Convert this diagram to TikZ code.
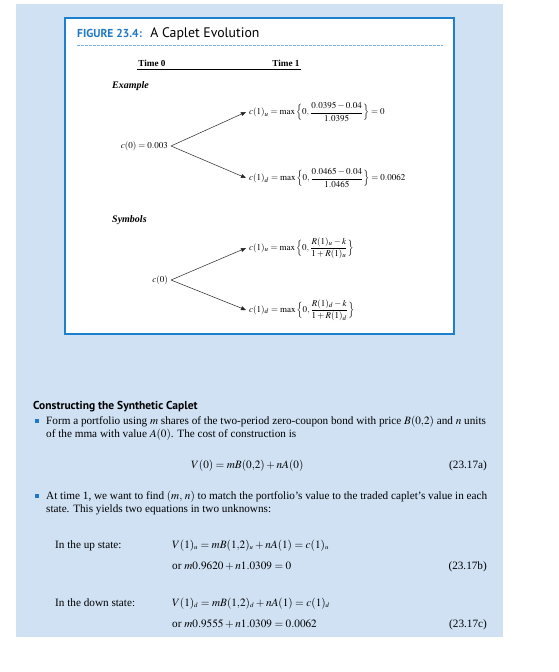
\documentclass[tikz,border=0pt]{standalone}
\usepackage{amsmath}
\usepackage{mathptmx}
\usepackage{fontspec}
\setmainfont{Liberation Serif}
\setsansfont{PT Sans}
\usetikzlibrary{arrows.meta,positioning}
\definecolor{pagebg}{RGB}{207,225,243}
\definecolor{framebl}{RGB}{28,128,208}
\definecolor{figbl}{RGB}{30,120,200}
\definecolor{dashbl}{RGB}{120,175,225}

\begin{document}
\begin{tikzpicture}[x=1pt, y=-1pt,
  panel/.style={draw=framebl, line width=2pt, fill=white},
  figtag/.style={font=\sffamily\bfseries\fontsize{11.5}{13}\selectfont,
    text=figbl, inner sep=0pt, anchor=base west},
  figttl/.style={font=\sffamily\fontsize{13.8}{15}\selectfont,
    inner sep=0pt, anchor=base west},
  timelbl/.style={font=\bfseries\fontsize{9.2}{11}\selectfont, inner sep=0pt, anchor=base},
  sect/.style={font=\bfseries\itshape\fontsize{10}{12}\selectfont,
    inner sep=0pt, anchor=base west},
  tlbl/.style={font=\fontsize{9}{11}\selectfont, inner sep=3pt},
  brarr/.style={-{Triangle[length=5pt,width=4pt]}, line width=0.5pt, black!85},
  head/.style={font=\sffamily\bfseries\fontsize{11.5}{13}\selectfont,
    inner sep=0pt, anchor=base west},
  body/.style={font=\fontsize{11.2}{13}\selectfont, inner sep=0pt, anchor=base west},
  eqno/.style={font=\fontsize{11.2}{13}\selectfont, inner sep=0pt, anchor=base east},
  bul/.style={fill=figbl, minimum size=4pt, inner sep=0pt}
]
\useasboundingbox (0,0) rectangle (558,672);
\fill[pagebg] (16,4) rectangle (503,637);
\draw[panel] (65,18) rectangle (454,334);

% figure title
\node[figtag] (ftag) at (77,37) {FIGURE 23.4:};
\node[figttl, right=8pt of ftag.base east, anchor=base west] (fttl) {A Caplet Evolution};
\draw[dashbl, line width=0.8pt, dash pattern=on 2.5pt off 1.5pt] (77,45) -- (443,45);

\node[timelbl] (t0) at (152,66) {Time 0};
\node[timelbl] (t1) at (286,66) {Time 1};
\draw[line width=0.6pt] (137,69) -- (301,69);

% example tree
\node[sect] (ex) at (112,88) {Example};
\node[tlbl, anchor=east] (c0e) at (171,146) {$c(0) = 0.003$};
\node[tlbl, anchor=west] (cue) at (246,112)
  {$c(1)_u = \max\,\Bigl\{0, \dfrac{0.0395 - 0.04}{1.0395}\Bigr\} = 0$};
\node[tlbl, anchor=west] (cde) at (246,178)
  {$c(1)_d = \max\,\Bigl\{0, \dfrac{0.0465 - 0.04}{1.0465}\Bigr\} = 0.0062$};
\draw[brarr] (c0e.east) -- (cue.west);
\draw[brarr] (c0e.east) -- (cde.west);

% symbols tree
\node[sect] (sy) at (112,222) {Symbols};
\node[tlbl, anchor=east] (c0s) at (171,280) {$c(0)$};
\node[tlbl, anchor=west] (cus) at (246,248)
  {$c(1)_u = \max\,\Bigl\{0, \dfrac{R(1)_u - k}{1 + R(1)_u}\Bigr\}$};
\node[tlbl, anchor=west] (cds) at (246,310)
  {$c(1)_d = \max\,\Bigl\{0, \dfrac{R(1)_d - k}{1 + R(1)_d}\Bigr\}$};
\draw[brarr] (c0s.east) -- (cus.west);
\draw[brarr] (c0s.east) -- (cds.west);

% synthetic caplet
\node[head] (hd) at (33,409) {Constructing the Synthetic Caplet};
\node[bul] (b1) at (37,421) {};
\node[body] (p1a) at (46,424) {Form a portfolio using $m$ shares of the two-period zero-coupon bond with price $B(0{,}2)$ and $n$ units};
\node[body] (p1b) at (46,437) {of the mma with value $A(0)$. The cost of construction is};
\node[body] (eqa) at (191,468) {$V(0) = mB(0{,}2) + nA(0)$};
\node[eqno] (na) at (487,468) {(23.17a)};

\node[bul] (b2) at (37,496) {};
\node[body] (p2a) at (46,499) {At time 1, we want to find $(m,\, n)$ to match the portfolio's value to the traded caplet's value in each};
\node[body] (p2b) at (46,512) {state. This yields two equations in two unknowns:};

\node[body] (ups) at (55,548) {In the up state:};
\node[body] (upeq) at (172,548) {$V(1)_{\scriptscriptstyle u} = mB(1{,}2)_{\scriptscriptstyle u} + nA(1) = c(1)_{\scriptscriptstyle u}$};
\node[body] (upor) at (172,569) {or $m0.9620 + n1.0309 = 0$};
\node[eqno] (nb) at (487,569) {(23.17b)};

\node[body] (dns) at (55,606) {In the down state:};
\node[body] (dneq) at (172,606) {$V(1)_{\scriptscriptstyle d} = mB(1{,}2)_{\scriptscriptstyle d} + nA(1) = c(1)_{\scriptscriptstyle d}$};
\node[body] (dnor) at (172,627) {or $m0.9555 + n1.0309 = 0.0062$};
\node[eqno] (nc) at (487,627) {(23.17c)};
\end{tikzpicture}
\end{document}
